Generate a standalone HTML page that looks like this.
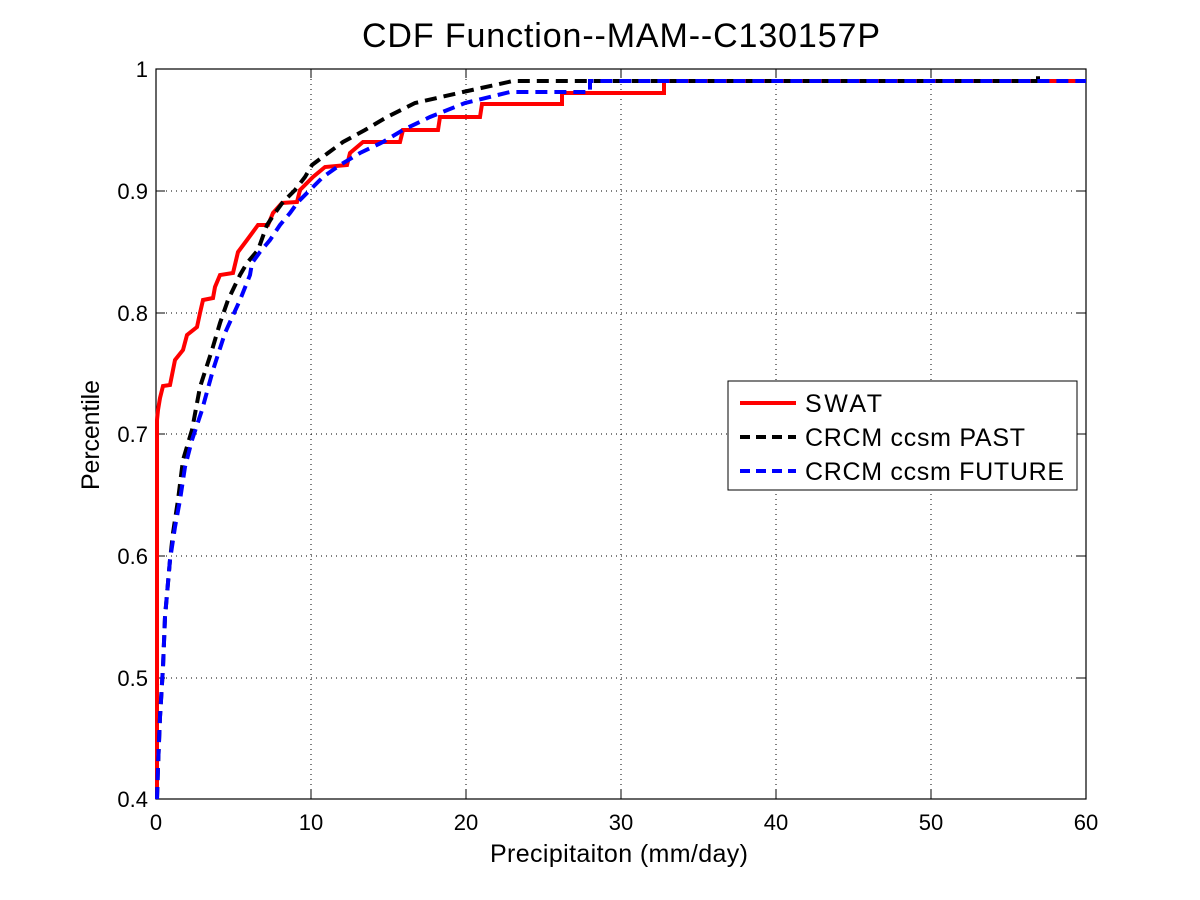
<!DOCTYPE html>
<html><head><meta charset="utf-8"><style>body{margin:0;background:#fff}svg{display:block}text{font-family:"Liberation Sans",sans-serif;fill:#000}</style></head><body>
<svg width="1200" height="900" viewBox="0 0 1200 900">
<rect width="1200" height="900" fill="#fff"/>
<g stroke="#000" stroke-width="1" stroke-dasharray="1,4">
<line x1="311" y1="69" x2="311" y2="799"/><line x1="466" y1="69" x2="466" y2="799"/><line x1="621" y1="69" x2="621" y2="799"/><line x1="776" y1="69" x2="776" y2="799"/><line x1="931" y1="69" x2="931" y2="799"/>
<line x1="156" y1="191" x2="1086" y2="191"/><line x1="156" y1="313" x2="1086" y2="313"/><line x1="156" y1="434" x2="1086" y2="434"/><line x1="156" y1="556" x2="1086" y2="556"/><line x1="156" y1="678" x2="1086" y2="678"/>
</g>
<rect x="156" y="69" width="930" height="730" fill="none" stroke="#000" stroke-width="1.2"/>
<g stroke="#000" stroke-width="1">
<line x1="311" y1="799" x2="311" y2="790"/><line x1="466" y1="799" x2="466" y2="790"/><line x1="621" y1="799" x2="621" y2="790"/><line x1="776" y1="799" x2="776" y2="790"/><line x1="931" y1="799" x2="931" y2="790"/>
<line x1="311" y1="69" x2="311" y2="78"/><line x1="466" y1="69" x2="466" y2="78"/><line x1="621" y1="69" x2="621" y2="78"/><line x1="776" y1="69" x2="776" y2="78"/><line x1="931" y1="69" x2="931" y2="78"/>
<line x1="156" y1="191" x2="165" y2="191"/><line x1="156" y1="313" x2="165" y2="313"/><line x1="156" y1="434" x2="165" y2="434"/><line x1="156" y1="556" x2="165" y2="556"/><line x1="156" y1="678" x2="165" y2="678"/>
<line x1="1086" y1="191" x2="1077" y2="191"/><line x1="1086" y1="313" x2="1077" y2="313"/><line x1="1086" y1="434" x2="1077" y2="434"/><line x1="1086" y1="556" x2="1077" y2="556"/><line x1="1086" y1="678" x2="1077" y2="678"/>
</g>
<g fill="none" stroke-width="4">
<polyline stroke="#f00" points="157,799 157,420 158,410 160,398 163,386 170,385 172,375 175,360 183,350 187,335 197,327 200,313 203,300 213,298 215,287 220,275 233,273 238,252 247,240 258,225 268,225 273,213 282,203 297,202 300,190 313,177 325,167 347,165 350,153 363,142 400,142 403,130 438,130 440,117 480,117 482,104 562,104 562,93 664,93 664,81 1086,81"/>
<polyline stroke="#000" stroke-dasharray="12,7" points="157,799 158,767 160,717 163,667 165,617 170,560 173,533 178,500 183,460 192,430 200,387 212,350 220,323 228,300 240,275 247,263 258,250 267,225 275,213 283,202 295,190 305,177 312,165 328,153 343,142 365,130 387,117 415,103 463,92 513,81 1038,81 1038,69"/>
<polyline stroke="#00f" stroke-dasharray="12,7" points="157,799 158,767 160,717 163,667 165,617 170,560 175,527 180,500 185,467 192,440 202,410 213,370 225,333 240,300 250,275 252,263 260,252 270,240 280,225 290,213 298,202 310,190 323,177 340,165 360,153 383,142 403,130 430,117 465,103 510,92 590,92 590,81 1086,81"/>
</g>
<rect x="728" y="381" width="349" height="109" fill="#fff" stroke="#000" stroke-width="1"/>
<line x1="740" y1="403" x2="796" y2="403" stroke="#f00" stroke-width="4"/>
<line x1="740" y1="437" x2="796" y2="437" stroke="#000" stroke-width="4" stroke-dasharray="10,6"/>
<line x1="740" y1="471" x2="796" y2="471" stroke="#00f" stroke-width="4" stroke-dasharray="10,6"/>
<g font-size="25"><text x="805" y="412" textLength="77">SWAT</text><text x="805" y="446" textLength="220">CRCM ccsm PAST</text><text x="805" y="480" textLength="259">CRCM ccsm FUTURE</text></g>
<g font-size="22" text-anchor="middle">
<text x="156" y="830">0</text><text x="311" y="830">10</text><text x="466" y="830">20</text><text x="621" y="830">30</text><text x="776" y="830">40</text><text x="931" y="830">50</text><text x="1086" y="830">60</text>
</g>
<g font-size="22" text-anchor="end">
<text x="148" y="807">0.4</text><text x="148" y="686">0.5</text><text x="148" y="564">0.6</text><text x="148" y="442">0.7</text><text x="148" y="321">0.8</text><text x="148" y="199">0.9</text><text x="148" y="77">1</text>
</g>
<text x="619" y="862" font-size="25" text-anchor="middle" textLength="258">Precipitaiton (mm/day)</text>
<text transform="translate(99,435) rotate(-90)" font-size="25" text-anchor="middle" textLength="110">Percentile</text>
<text x="621" y="47" font-size="34" text-anchor="middle" textLength="518">CDF Function--MAM--C130157P</text>
</svg>
</body></html>
